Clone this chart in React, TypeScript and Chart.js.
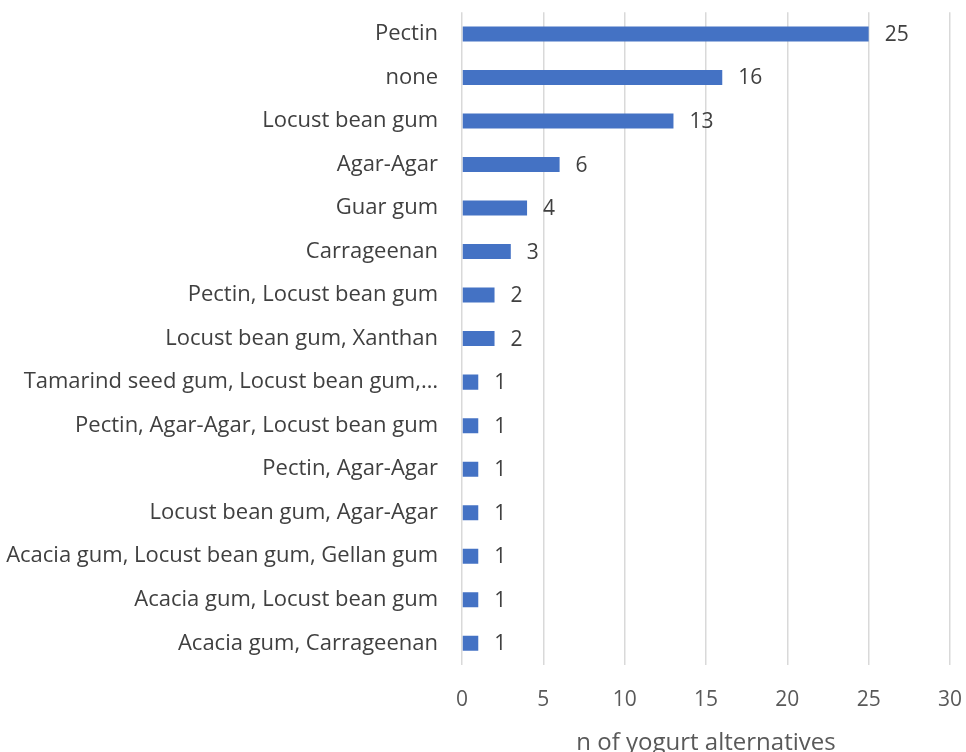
import React, { useEffect, useRef } from "react";
import { Chart, registerables } from "chart.js";

Chart.register(...registerables);

const categories: string[] = [
  "Pectin",
  "none",
  "Locust bean gum",
  "Agar-Agar",
  "Guar gum",
  "Carrageenan",
  "Pectin, Locust bean gum",
  "Locust bean gum, Xanthan",
  "Tamarind seed gum, Locust bean gum,…",
  "Pectin, Agar-Agar, Locust bean gum",
  "Pectin, Agar-Agar",
  "Locust bean gum, Agar-Agar",
  "Acacia gum, Locust bean gum, Gellan gum",
  "Acacia gum, Locust bean gum",
  "Acacia gum, Carrageenan",
];

const counts: number[] = [25, 16, 13, 6, 4, 3, 2, 2, 1, 1, 1, 1, 1, 1, 1];

const axisTitle = "n of yogurt alternatives";

const FONT = "'Open Sans', 'Noto Sans', sans-serif";

const valueLabels = {
  id: "valueLabels",
  afterDatasetsDraw(chart: any) {
    const ctx = chart.ctx;
    const meta = chart.getDatasetMeta(0);
    ctx.save();
    ctx.font = `21px ${FONT}`;
    ctx.fillStyle = "#404040";
    ctx.textAlign = "left";
    ctx.textBaseline = "middle";
    meta.data.forEach((bar: any, i: number) => {
      ctx.fillText(String(counts[i]), bar.x + 16, bar.y + 1);
    });
    ctx.restore();
  },
};

export default function App() {
  const ref = useRef<HTMLCanvasElement>(null);
  useEffect(() => {
    document.body.style.margin = "0";
    document.body.style.overflow = "hidden";
    const chart = new Chart(ref.current!, {
      type: "bar",
      data: {
        labels: categories,
        datasets: [
          {
            data: counts,
            backgroundColor: "#4472C4",
            barPercentage: 0.345,
            categoryPercentage: 1,
          },
        ],
      },
      options: {
        indexAxis: "y",
        animation: false,
        responsive: false,
        maintainAspectRatio: false,
        layout: { padding: { top: 0, right: 0, left: 0, bottom: 0 } },
        plugins: { legend: { display: false }, tooltip: { enabled: false } },
        scales: {
          x: {
            min: 0,
            max: 30,
            ticks: {
              stepSize: 5,
              padding: 22,
              color: "#595959",
              font: { family: FONT, size: 21 },
            },
            grid: { color: "#d9d9d9", lineWidth: 1.5, drawTicks: false },
            border: { display: false },
            title: {
              display: true,
              text: axisTitle,
              color: "#595959",
              font: { family: FONT, size: 24 },
              padding: { top: 0, bottom: -6 },
            },
            afterFit: (s: any) => {
              s.height = 87;
            },
          },
          y: {
            ticks: {
              padding: 24,
              color: "#404040",
              font: { family: FONT, size: 22 },
              autoSkip: false,
            },
            grid: { display: false, drawTicks: false },
            border: { display: false },
            afterFit: (s: any) => {
              s.width = 462;
            },
          },
        },
      },
      plugins: [valueLabels],
    });
    return () => chart.destroy();
  }, []);
  return (
    <div style={{ position: "fixed", left: 0, top: 0, width: 966, height: 752, overflow: "hidden" }}>
      <canvas
        ref={ref}
        width={984}
        height={777}
        style={{ display: "block", position: "absolute", left: 0, top: -25 }}
      />
    </div>
  );
}
